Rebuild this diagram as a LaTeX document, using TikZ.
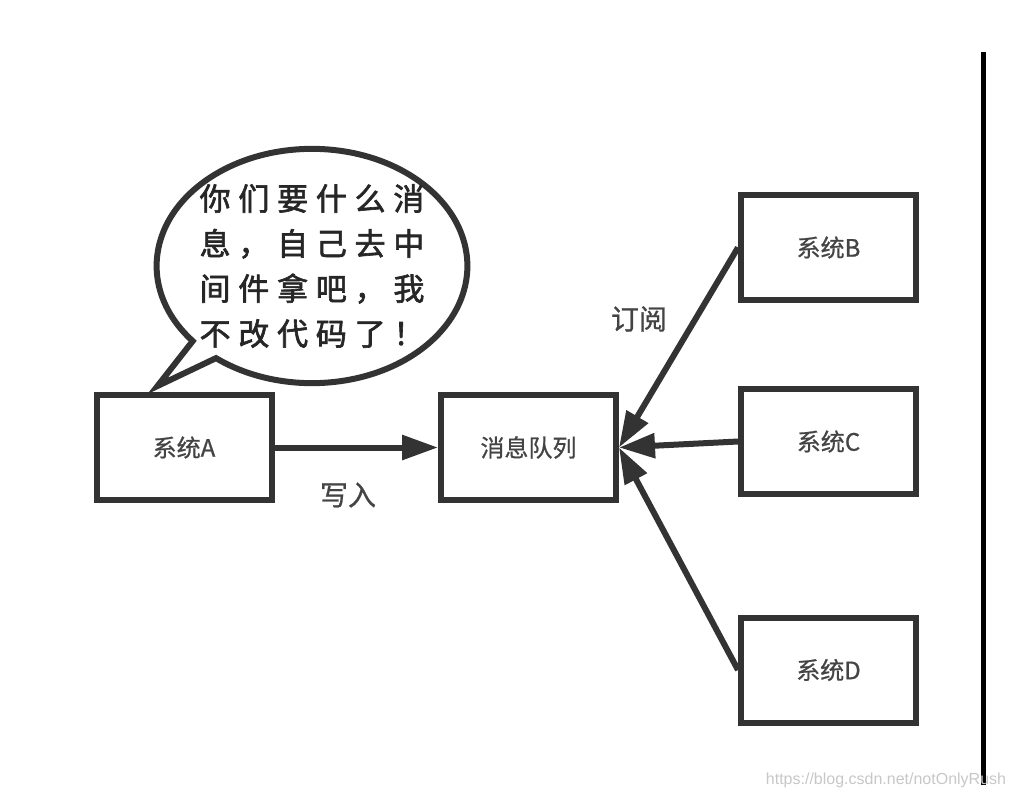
\documentclass[tikz,border=0pt]{standalone}
\usepackage{fontspec}
\setmainfont{Noto Sans CJK SC}[FakeBold=0.8]
\newfontfamily\cjkwide[LetterSpace=25,FakeBold=2]{Noto Sans CJK SC}
\newfontfamily\urlfont{Liberation Sans}
\usetikzlibrary{arrows.meta,shapes.callouts,calc}
\definecolor{linegray}{HTML}{333333}
\definecolor{textgray}{HTML}{444444}

\begin{document}
\begin{tikzpicture}[x=1pt,y=-1pt,
        sysbox/.style={draw=linegray,line width=6pt,minimum width=175pt,minimum height=105pt,
            text=textgray,font=\fontsize{24pt}{28pt}\selectfont},
        flow/.style={draw=linegray,line width=6pt,-{Triangle[length=36pt,width=24pt]}},
        note/.style={text=textgray,font=\fontsize{28pt}{32pt}\selectfont}]
        \useasboundingbox (0,0) rectangle (1014,798);
        % systems
        \node [sysbox] (sysA) at (184,447.5) {系统A};
        \node [sysbox] (queue) at (528.5,447.5) {消息队列};
        \node [sysbox] (sysB) at (828.5,247.5) {系统B};
        \node [sysbox] (sysC) at (828.5,441.5) {系统C};
        \node [sysbox] (sysD) at (828.5,670) {系统D};
        % speech bubble
        \node [ellipse callout,draw=linegray,line width=6pt,inner xsep=-2.5pt,inner ysep=1pt,
            callout absolute pointer={($(sysA.north west)+(64,-6)$)},callout pointer arc=12,
            align=left,text=black!85,font=\cjkwide\fontsize{31pt}{45pt}\selectfont] (bubble) at (312,266)
            {你们要什么消\\息，自己去中\\间件拿吧，我\\不改代码了！};
        % arrows
        \draw [flow] (sysA.east) -- (queue.west);
        \draw [flow] (sysB.west) -- (queue.east);
        \draw [flow] (sysC.west) -- (queue.east);
        \draw [flow] (sysD.west) -- (queue.east);
        \node [note] (write) at (348,495) {写入};
        \node [note] (subscribe) at (639,319) {订阅};
        % page edge and mark
        \draw [line width=5pt] (983,52) -- (983,785);
        \node [text=black!22,font=\urlfont\fontsize{16pt}{18pt}\selectfont] (mark) at (886,780) {https://blog.csdn.net/notOnlyRush};
\end{tikzpicture}
\end{document}
